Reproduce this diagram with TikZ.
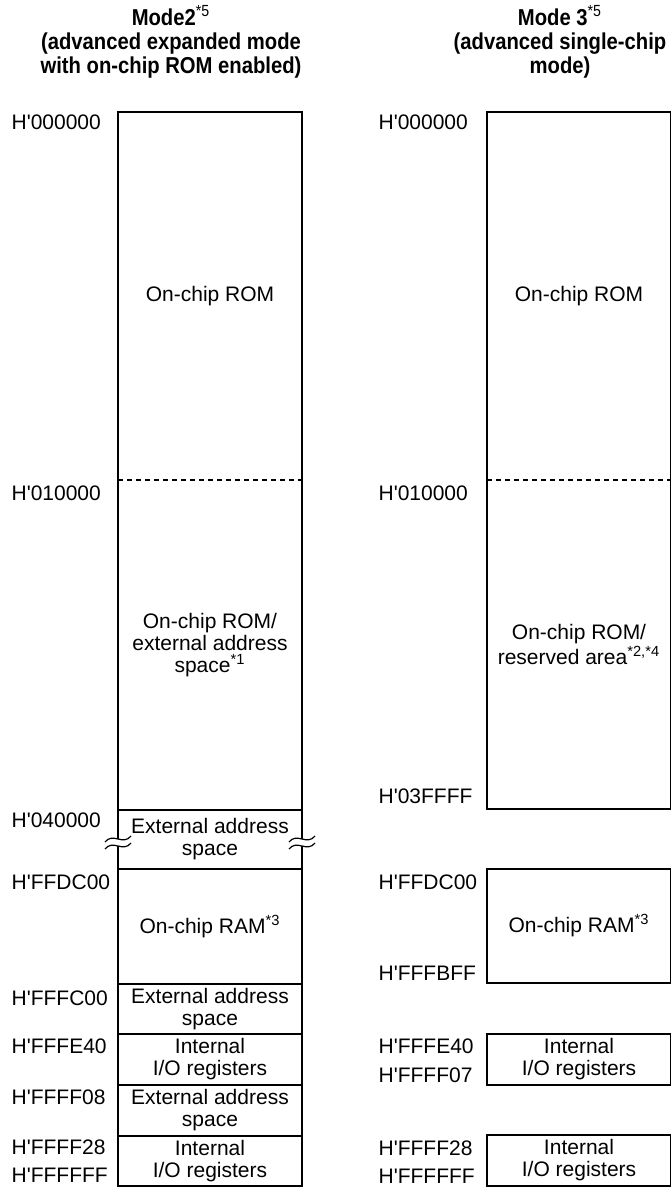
\documentclass[tikz,border=0pt]{standalone}
\usepackage{fontspec}
\setmainfont{Liberation Sans}[Ligatures=TeXOff]
\newfontfamily\headfont{Liberation Sans}[Ligatures=TeXOff, FakeStretch=0.88]
\usetikzlibrary{positioning}

\begin{document}
\begin{tikzpicture}[
    x=0.5pt, y=-0.5pt,
    line width=0.6pt,
    node distance=0pt,
    region/.style={
        rectangle, inner sep=0pt, outer sep=0pt, minimum width=92pt,
        align=center, font=\fontsize{10.5}{11}\selectfont
    },
    area/.style={region, draw},
    addr/.style={anchor=west, inner sep=0pt, font=\fontsize{10.5}{11}\selectfont},
    title/.style={align=center, inner sep=0pt,
        font=\headfont\fontsize{11.5}{12}\selectfont\bfseries},
    sep/.style={dash pattern=on 2.5pt off 2pt}
]
\useasboundingbox (0,0) rectangle (670,1187);

% titles
\node[title] (modeA) at (171,42) {Mode2\textsuperscript{\mdseries*5}\\(advanced expanded mode\\with on-chip ROM enabled)};
\node[title] (modeB) at (560,42) {Mode 3\textsuperscript{\mdseries*5}\\(advanced single-chip\\mode)};

% mode 2 map
\node[region, anchor=north west, minimum height=184pt] (romA) at (118,112) {On-chip ROM};
\node[region, below=of romA, minimum height=165pt] (romxA) {On-chip ROM/\\external address\\space\textsuperscript{*1}};
\draw (romA.north west) rectangle (romxA.south east);
\draw[sep] (romA.south west) -- (romA.south east);
\node[area, below=of romxA, minimum height=29.5pt] (extA) {External address\\space};
\node[area, below=of extA, minimum height=57.5pt] (ramA) {On-chip RAM\textsuperscript{*3}};
\node[area, below=of ramA, minimum height=25pt] (extB) {External address\\space};
\node[area, below=of extB, minimum height=25.5pt] (ioA) {Internal\\I/O registers};
\node[area, below=of ioA, minimum height=25.5pt] (extC) {External address\\space};
\node[area, below=of extC, minimum height=25pt] (ioB) {Internal\\I/O registers};

% break marks
\foreach \xb in {118,302} {
    \fill[white] (\xb-13,842) .. controls (\xb-5,832) and (\xb+5,846) .. (\xb+13,836)
        -- (\xb+13,843) .. controls (\xb+5,853) and (\xb-5,839) .. (\xb-13,849) -- cycle;
    \draw (\xb-13,842) .. controls (\xb-5,832) and (\xb+5,846) .. (\xb+13,836);
    \draw (\xb-13,849) .. controls (\xb-5,839) and (\xb+5,853) .. (\xb+13,843);
}

% mode 3 map
\node[region, anchor=north west, minimum height=184pt] (romB) at (487,112) {On-chip ROM};
\node[region, below=of romB, minimum height=164.5pt] (rsvB) {On-chip ROM/\\reserved area\textsuperscript{*2,*4}};
\draw (romB.north west) rectangle (rsvB.south east);
\draw[sep] (romB.south west) -- (romB.south east);
\node[area, anchor=north west, minimum height=57pt] (ramB) at (487,869) {On-chip RAM\textsuperscript{*3}};
\node[area, anchor=north west, minimum height=25.5pt] (ioC) at (487,1034) {Internal\\I/O registers};
\node[area, anchor=north west, minimum height=25.5pt] (ioD) at (487,1135) {Internal\\I/O registers};

% addresses
\foreach \y/\a [count=\i] in {122/000000, 493/010000, 820/040000, 882/FFDC00,
    998/FFFC00, 1046/FFFE40, 1097/FFFF08, 1147/FFFF28, 1175/FFFFFF}
    \node[addr] (adrA\i) at (11,\y) {H'\a};
\foreach \y/\a [count=\i] in {122/000000, 493/010000, 796/03FFFF, 882/FFDC00,
    973/FFFBFF, 1046/FFFE40, 1075/FFFF07, 1148/FFFF28, 1176/FFFFFF}
    \node[addr] (adrB\i) at (378,\y) {H'\a};
\end{tikzpicture}
\end{document}
